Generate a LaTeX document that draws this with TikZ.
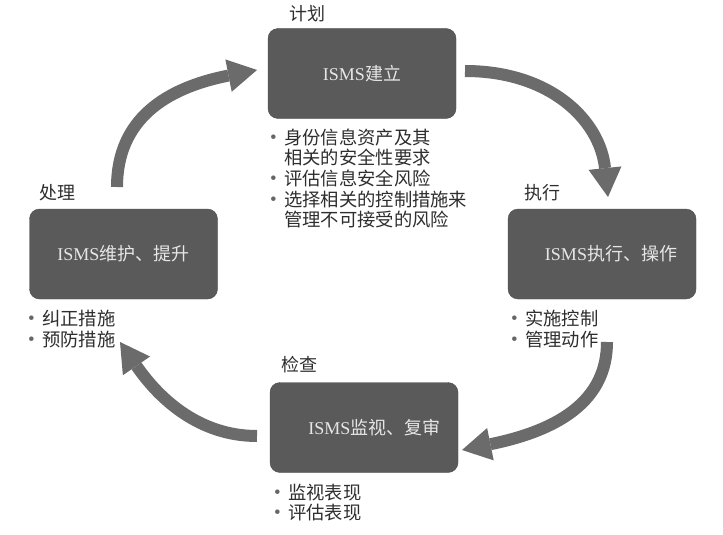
\documentclass[tikz,border=0pt]{standalone}
\usepackage{fontspec}
\setmainfont{Liberation Serif}
\newfontfamily\cjk{Noto Sans CJK SC}
\usetikzlibrary{arrows.meta}
\definecolor{boxgray}{HTML}{5A5A5A}
\definecolor{arrgray}{HTML}{6B6B6B}
\definecolor{boxtext}{HTML}{E6E6E6}
\definecolor{txt}{HTML}{2E2E2E}
\newcommand\bul{\makebox[14pt][l]{\raisebox{1pt}{\fontsize{19}{19}\selectfont\rmfamily\textcolor{black!60}{•}}}}
\newcommand\ind{\hspace*{14pt}}
\begin{document}
\begin{tikzpicture}[x=1pt,y=-1pt,
  boxnode/.style={rectangle, rounded corners=10pt, fill=boxgray, draw=black!70, line width=0.4pt,
    minimum width=188pt, minimum height=90pt, text=boxtext, font=\fontsize{18}{20}\selectfont, inner sep=0pt},
  lbl/.style={anchor=west, text=txt, font=\cjk\fontsize{18}{20}\selectfont, inner sep=0pt},
  blist/.style={anchor=west, align=left, text=txt, font=\cjk\fontsize{18.3}{20.7}\selectfont, inner sep=0pt},
  cyc/.style={line width=12pt, draw=arrgray, -{Triangle[width=33pt,length=29pt,line width=0pt]}}]
\useasboundingbox (0,0) rectangle (723,535);
\fill[white] (0,0) rectangle (723,535);

% boxes
\node[boxnode] (pbox) at (362,73.5) {ISMS{\cjk 建立}};
\node[boxnode] (abox) at (123.5,254) {ISMS{\cjk 维护、提升}};
\node[boxnode] (dbox) at (602,254) {\hspace*{18pt}ISMS{\cjk 执行、操作}};
\node[boxnode] (cbox) at (364,427.5) {\hspace*{21pt}ISMS{\cjk 监视、复审}};

% labels
\node[lbl] (plbl) at (289,14) {计划};
\node[lbl] (albl) at (39,193) {处理};
\node[lbl] (dlbl) at (524,193) {执行};
\node[lbl] (clbl) at (281,365) {检查};

% bullet lists
\node[blist] (plist) at (270,178.5) {\bul 身份信息资产及其\\\ind 相关的安全性要求\\\bul 评估信息安全风险\\\bul 选择相关的控制措施来\\\ind 管理不可接受的风险};
\node[blist] (alist) at (28,329) {\bul 纠正措施\\\bul 预防措施};
\node[blist] (dlist) at (511,329) {\bul 实施控制\\\bul 管理动作};
\node[blist] (clist) at (274,502.5) {\bul 监视表现\\\bul 评估表现};

% cycle arrows
\coordinate (a1s) at (465,71);  \coordinate (a1e) at (608,197);
\coordinate (a2s) at (607,342); \coordinate (a2e) at (462,450);
\coordinate (a3s) at (257,436); \coordinate (a3e) at (120,342);
\coordinate (a4s) at (117,187); \coordinate (a4e) at (257,70);
\draw[cyc] (a1s) .. controls (550,71) and (600,120) .. (a1e);
\draw[cyc] (a2s) .. controls (607,400) and (560,430) .. (a2e);
\draw[cyc] (a3s) .. controls (200,436) and (160,400) .. (a3e);
\draw[cyc] (a4s) .. controls (117,120) and (165,88) .. (a4e);
\end{tikzpicture}
\end{document}
